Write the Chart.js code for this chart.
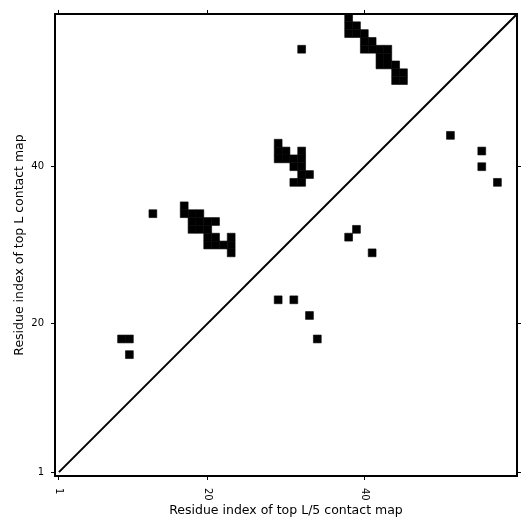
<!DOCTYPE html>
<html><head><meta charset="utf-8">
<script src="https://cdn.jsdelivr.net/npm/chart.js@4/dist/chart.umd.min.js"></script>
<style>html,body{margin:0;padding:0;background:#fff}#wrap{width:531px;height:531px;position:relative}</style>
</head><body><div id="wrap"><canvas id="c"></canvas></div>
<script>
// ---- data ----
const xTicks = [1, 20, 40];
const yTicks = [1, 20, 40];
const axisMin = 0.5;
const axisMax = 59.5;
const xTitle = "Residue index of top L/5 contact map";
const yTitle = "Residue index of top L contact map";
const diagonalX = [1, 59.5];
const diagonalY = [1, 59.5];
// upper triangle: top L contacts [residue i, residue j]
const topLContacts = [
  [9,18],[10,18],[10,16],[13,34],
  [17,35],[17,34],[18,34],[19,34],[18,33],[19,33],[20,33],[21,33],[18,32],[19,32],[20,32],
  [20,31],[21,31],[23,31],[20,30],[21,30],[22,30],[23,30],[23,29],
  [29,43],[29,42],[30,42],[32,42],[29,41],[30,41],[31,41],[32,41],[31,40],[32,40],
  [32,39],[33,39],[31,38],[32,38],
  [32,55],
  [38,59],[38,58],[39,58],[38,57],[39,57],[40,57],[40,56],[41,56],[40,55],[41,55],[42,55],[43,55],
  [42,54],[43,54],[42,53],[43,53],[44,53],[44,52],[45,52],[44,51],[45,51]
];
// lower triangle: top L/5 contacts
const topL5Contacts = [
  [51,44],[55,42],[55,40],[57,38],[39,32],[38,31],[41,29],[29,23],[31,23],[33,21],[34,18]
];

const FONT = "'DejaVu Sans', sans-serif";
const toPts = arr => arr.map(([x, y]) => ({x, y}));
const cellRadius = ctx => {
  const s = ctx.chart.scales.x;
  if (!s) return 4;
  return Math.abs(s.getPixelForValue(1) - s.getPixelForValue(0)) / Math.SQRT2;
};
const fixTicks = vals => scale => { scale.ticks = vals.map(v => ({value: v})); };
const axisCommon = (pos) => ({
  type: 'linear', position: pos, min: axisMin, max: axisMax,
  grid: {drawOnChartArea: false, drawTicks: true, tickLength: 4, color: '#000', lineWidth: 1},
  border: {display: true, color: '#000', width: 2},
});

const xTickLabels = {
  id: 'xTickLabels',
  afterDraw(chart) {
    const {ctx, chartArea, scales} = chart;
    ctx.save();
    ctx.fillStyle = '#000';
    ctx.font = "10px " + FONT;
    ctx.textAlign = 'left';
    ctx.textBaseline = 'middle';
    xTicks.forEach(v => {
      const px = scales.x.getPixelForValue(v);
      ctx.save();
      ctx.translate(px, chartArea.bottom + 12);
      ctx.rotate(Math.PI / 2);
      ctx.fillText(String(v), 0, 0);
      ctx.restore();
    });
    ctx.restore();
  }
};

new Chart(document.getElementById('c'), {
  type: 'scatter',
  data: {
    datasets: [
      {
        type: 'line', data: diagonalX.map((x, i) => ({x, y: diagonalY[i]})),
        borderColor: '#000', borderWidth: 2, pointRadius: 0, showLine: true, fill: false
      },
      {
        data: toPts(topLContacts), pointStyle: 'rect', pointRadius: cellRadius,
        backgroundColor: '#000', borderColor: '#000', borderWidth: 0.6
      },
      {
        data: toPts(topL5Contacts), pointStyle: 'rect', pointRadius: cellRadius,
        backgroundColor: '#000', borderColor: '#000', borderWidth: 0.6
      }
    ]
  },
  options: {
    responsive: true, maintainAspectRatio: false, animation: false, events: [],
    layout: {padding: 0},
    plugins: {legend: {display: false}, tooltip: {enabled: false}},
    scales: {
      x: Object.assign(axisCommon('bottom'), {
        afterBuildTicks: fixTicks(xTicks),
        ticks: {display: false},
        title: {display: true, text: xTitle, color: '#000', font: {family: FONT, size: 12.5}, padding: {top: 0, bottom: 12.5}},
        afterFit: s => { s.height = 55; }
      }),
      x2: Object.assign(axisCommon('top'), {
        afterBuildTicks: fixTicks(xTicks),
        ticks: {display: false},
        afterFit: s => { s.height = 14; }
      }),
      y: Object.assign(axisCommon('left'), {
        afterBuildTicks: fixTicks(yTicks),
        ticks: {display: true, color: '#000', font: {family: FONT, size: 10}, padding: 7, callback: v => String(v)},
        title: {display: true, text: yTitle, color: '#000', font: {family: FONT, size: 12.5}, padding: {top: 12.5, bottom: 0}},
        afterFit: s => { s.width = 55; }
      }),
      y2: Object.assign(axisCommon('right'), {
        afterBuildTicks: fixTicks(yTicks),
        ticks: {display: false},
        afterFit: s => { s.width = 14; }
      })
    }
  },
  plugins: [xTickLabels]
});
</script>
</body></html>
